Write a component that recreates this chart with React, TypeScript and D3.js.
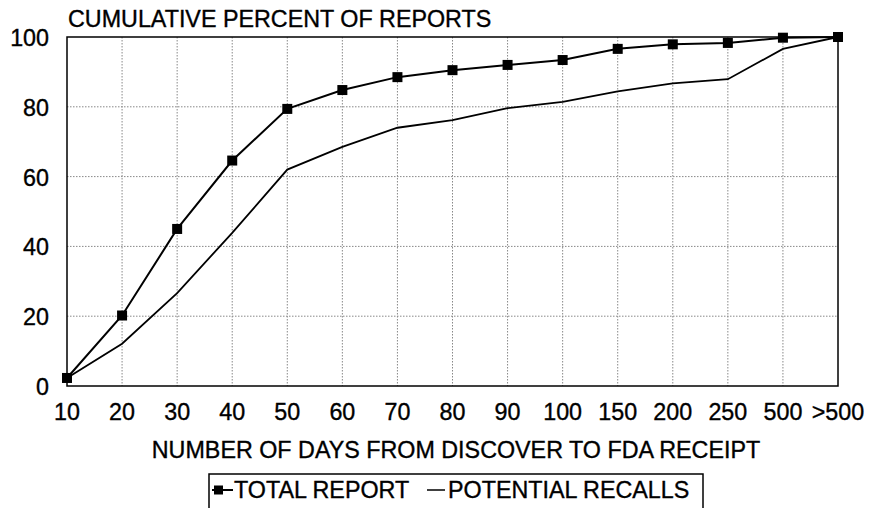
import React from "react";
import * as d3 from "d3";

const categories = ["10", "20", "30", "40", "50", "60", "70", "80", "90", "100", "150", "200", "250", "500", ">500"];
const totalReport = [2.3, 20.2, 45, 64.6, 79.4, 84.8, 88.5, 90.5, 92, 93.4, 96.6, 97.9, 98.3, 99.8, 100];
const potentialRecalls = [2.3, 12.1, 26.6, 43.9, 62, 68.5, 74, 76.2, 79.6, 81.4, 84.4, 86.7, 87.9, 96.6, 100];
const yTicks = [0, 20, 40, 60, 80, 100];

const W = 869, H = 508;
const L = 67, R = 838, T = 37, B = 386;
const font = "'Liberation Sans', Arial, sans-serif";
const FS = 23.3;

export default function App() {
  const x = d3.scalePoint<string>().domain(categories).range([L, R]);
  const y = d3.scaleLinear().domain([0, 100]).range([B, T]);
  const line = d3.line<number>().x((_, i) => x(categories[i])!).y((d) => y(d));
  const txt = { fontSize: FS, fill: "#000", stroke: "#000", strokeWidth: 0.35 };

  return (
    <svg width={W} height={H} style={{ position: "absolute", left: 0, top: 0 }} fontFamily={font}>
      <rect width={W} height={H} fill="#fff" />
      {categories.slice(1, -1).map((c) => (
        <line key={c} x1={x(c)} x2={x(c)} y1={T} y2={B} stroke="#888" strokeWidth={1} strokeDasharray="1.5,1.5" />
      ))}
      {yTicks.slice(1, -1).map((t) => (
        <line key={t} x1={L} x2={R} y1={y(t)} y2={y(t)} stroke="#888" strokeWidth={1} strokeDasharray="1.5,1.5" />
      ))}
      <rect x={L} y={T} width={R - L} height={B - T} fill="none" stroke="#000" strokeWidth={1.5} />
      <path d={line(potentialRecalls)!} fill="none" stroke="#000" strokeWidth={1.8} />
      <path d={line(totalReport)!} fill="none" stroke="#000" strokeWidth={2} />
      {totalReport.map((v, i) => (
        <rect key={i} x={x(categories[i])! - 5} y={y(v) - 5} width={10} height={10} fill="#000" />
      ))}
      {yTicks.map((t) => (
        <text key={t} x={49} y={y(t) + 9} textAnchor="end" {...txt}>{t}</text>
      ))}
      {categories.map((c) => (
        <text key={c} x={x(c)} y={420} textAnchor="middle" {...txt}>{c}</text>
      ))}
      <text x={68} y={27} {...txt}>CUMULATIVE PERCENT OF REPORTS</text>
      <text x={456} y={458} textAnchor="middle" {...txt}>NUMBER OF DAYS FROM DISCOVER TO FDA RECEIPT</text>
      <rect x={209} y={474} width={494} height={50} fill="none" stroke="#000" strokeWidth={1.5} />
      <line x1={212} x2={233} y1={490} y2={490} stroke="#000" strokeWidth={2} />
      <rect x={214} y={485.5} width={9} height={9} fill="#000" />
      <text x={234} y={498} {...txt}>TOTAL REPORT</text>
      <line x1={427} x2={445} y1={490} y2={490} stroke="#000" strokeWidth={1.5} />
      <text x={448} y={498} {...txt}>POTENTIAL RECALLS</text>
    </svg>
  );
}
